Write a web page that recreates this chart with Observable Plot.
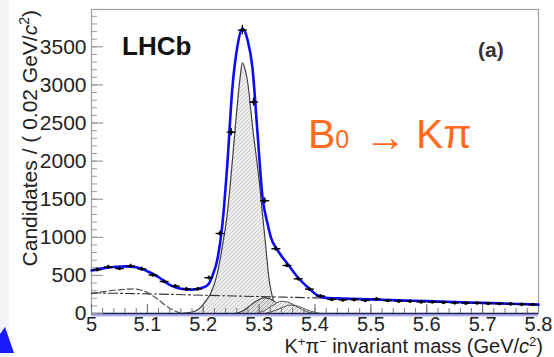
<!DOCTYPE html>
<html><head><meta charset="utf-8">
<script src="https://cdn.jsdelivr.net/npm/d3@7"></script>
<script src="https://cdn.jsdelivr.net/npm/@observablehq/plot@0.6"></script>
<style>
body{margin:0;background:#fff;}
#wrap{position:relative;width:554px;height:357px;overflow:hidden;background:#fff;}
#strip{position:absolute;left:0;top:0;width:9px;height:357px;background:#f3f3f5;}
#wrap svg.main{position:absolute;left:0;top:0;}
</style></head><body><div id="wrap"><div id="strip"></div></div>
<script>
// ---- data ----
const binCenters = [5.01,5.03,5.05,5.07,5.09,5.11,5.13,5.15,5.17,5.19,5.21,5.23,5.25,5.27,5.29,5.31,5.33,5.35,5.37,5.39,
                    5.41,5.43,5.45,5.47,5.49,5.51,5.53,5.55,5.57,5.59,5.61,5.63,5.65,5.67,5.69,5.71,5.73,5.75,5.77,5.79];
const counts = [575,610,590,622,585,505,420,360,320,322,470,1050,2380,3720,2775,1480,850,630,455,320,
                230,185,178,182,172,190,170,162,160,152,150,146,140,136,138,132,130,126,120,118];

const fitMass  = [5.00,5.02,5.04,5.06,5.08,5.10,5.12,5.14,5.16,5.18,5.20,5.21,5.216,5.225,5.234,5.243,5.252,5.261,5.270,5.279,
                  5.288,5.297,5.306,5.315,5.321,5.333,5.351,5.369,5.387,5.405,5.42,5.45,5.50,5.55,5.60,5.65,5.70,5.75,5.80];
const fitTotal = [564,592,610,618,606,555,476,375,325,314,340,390,490,700,1150,1950,2950,3500,3740,3600,
                  3230,2380,1530,1180,1000,830,650,476,345,236,205,196,185,172,162,150,140,128,117];

const sigMass = [5.16,5.185,5.196,5.205,5.213,5.225,5.234,5.243,5.249,5.258,5.266,5.270,5.275,5.279,5.289,5.300,5.306,5.312,5.318,5.324,5.330,5.340,5.350];
const sigVal  = [0,30,84,170,260,521,870,1308,1745,2500,3100,3290,3200,3058,2400,1745,1308,870,433,214,62,10,0];

const prMass = [5.00,5.02,5.04,5.06,5.075,5.09,5.10,5.11,5.12,5.13,5.14,5.15,5.16,5.17];
const prVal  = [262,285,305,318,322,305,275,230,180,120,70,30,6,0];

const combMass = [5.0,5.1,5.2,5.3,5.4,5.5,5.6,5.7,5.8];
const combVal  = [270,258,240,222,205,182,158,136,113];

const humpAMass = [5.255,5.27,5.285,5.30,5.31,5.32,5.335,5.35,5.365,5.375];
const humpAVal  = [0,30,110,185,205,190,120,50,10,0];
const humpBMass = [5.295,5.31,5.325,5.34,5.355,5.37,5.385,5.40];
const humpBVal  = [0,40,110,160,140,80,25,0];
const humpCMass = [5.31,5.325,5.34,5.355,5.37,5.385,5.40,5.41];
const humpCVal  = [0,30,75,110,95,50,15,0];

const xTicks = [5,5.1,5.2,5.3,5.4,5.5,5.6,5.7,5.8];
const xTickLabels = ["5","5.1","5.2","5.3","5.4","5.5","5.6","5.7","5.8"];
const yTicks = [0,500,1000,1500,2000,2500,3000,3500];
const yTickLabels = ["0","500","1000","1500","2000","2500","3000","3500"];
const xMinor = d3.range(0, 41).map(i => 5 + i * 0.02);
const yMinor = d3.range(0, 40).map(i => i * 100);

// ---- tables ----
const zip = (ms, vs) => ms.map((m, i) => ({m, v: vs[i]}));
const points = zip(binCenters, counts);
const fit = zip(fitMass, fitTotal);
const sig = zip(sigMass, sigVal);
const pr = zip(prMass, prVal);
const comb = zip(combMass, combVal);
const hA = zip(humpAMass, humpAVal), hB = zip(humpBMass, humpBVal), hC = zip(humpCMass, humpCVal);

const FONT = "'Liberation Sans', Arial, Helvetica, sans-serif";
const curve = "monotone-x";

const svg = Plot.plot({
  width: 554, height: 357,
  marginLeft: 91, marginRight: 16, marginTop: 9, marginBottom: 44,
  style: {fontFamily: FONT, fontSize: "20px", color: "#222", background: "transparent"},
  x: {domain: [5, 5.8]},
  y: {domain: [0, 3990]},
  marks: [
    Plot.frame({stroke: "#a0a0a0", strokeWidth: 1.2}),
    // signal
    Plot.areaY(sig, {x: "m", y: "v", fill: "url(#hatchS)", curve}),
    Plot.lineY(sig, {x: "m", y: "v", stroke: "#404040", strokeWidth: 1.2, curve}),
    // other peaking components
    Plot.areaY(hA, {x: "m", y: "v", fill: "url(#hatchH)", curve}),
    Plot.lineY(hA, {x: "m", y: "v", stroke: "#404040", strokeWidth: 1.1, curve}),
    Plot.areaY(hB, {x: "m", y: "v", fill: "url(#hatchH2)", curve}),
    Plot.lineY(hB, {x: "m", y: "v", stroke: "#505050", strokeWidth: 1, curve}),
    Plot.lineY(hC, {x: "m", y: "v", stroke: "#505050", strokeWidth: 1, curve}),
    // partially reconstructed
    Plot.lineY(pr, {x: "m", y: "v", stroke: "#555", strokeWidth: 1.2, strokeDasharray: "6,3", curve}),
    // combinatorial
    Plot.lineY(comb, {x: "m", y: "v", stroke: "#333", strokeWidth: 1.1, strokeDasharray: "9,3,2,3", curve}),
    // bottom axis line
    Plot.ruleY([0], {stroke: "#b4b4ee", strokeWidth: 3, dy: 1.5}),
    Plot.ruleY([0], {stroke: "#22225a", strokeWidth: 1.3}),
    // ticks (inward)
    Plot.tickY(yTicks, {y: d => d, stroke: "#8a8a8a", strokeWidth: 1, insetRight: 447 - 12}),
    Plot.tickY(yMinor, {y: d => d, stroke: "#9a9a9a", strokeWidth: 1, insetRight: 447 - 6}),
    Plot.tickX(xTicks, {x: d => d, stroke: "#666", strokeWidth: 1, insetTop: 304 - 9}),
    Plot.tickX(xMinor, {x: d => d, stroke: "#777", strokeWidth: 1, insetTop: 304 - 5}),
    // total fit
    Plot.lineY(fit, {x: "m", y: "v", stroke: "#0b0bff", strokeWidth: 2.6, curve}),
    // data points
    Plot.ruleX(points, {x: "m", y1: d => d.v - Math.sqrt(d.v), y2: d => d.v + Math.sqrt(d.v), stroke: "#000", strokeWidth: 1.3}),
    Plot.link(points, {x1: d => d.m - 0.008, x2: d => d.m + 0.008, y1: "v", y2: "v", stroke: "#000", strokeWidth: 1.4}),
    Plot.dot(points, {x: "m", y: "v", r: 1.8, fill: "#000", stroke: null}),
    // axis labels
    Plot.axisY(yTicks, {tickSize: 0, tickPadding: 5, fontSize: 21, label: null,
      tickFormat: d => yTickLabels[yTicks.indexOf(d)]}),
    Plot.axisX(xTicks, {tickSize: 0, tickPadding: 3, fontSize: 20, label: null,
      tickFormat: d => xTickLabels[xTicks.indexOf(d)]})
  ]
});
svg.classList.add("main");
document.getElementById("wrap").appendChild(svg);

const S = d3.select(svg);
const defs = S.insert("defs", ":first-child");
function hatch(id, bg, line, w) {
  const p = defs.append("pattern").attr("id", id).attr("patternUnits", "userSpaceOnUse")
    .attr("width", 4).attr("height", 4);
  p.append("rect").attr("width", 4).attr("height", 4).attr("fill", bg);
  p.append("path").attr("d", "M-1,1 l2,-2 M0,4 l4,-4 M3,5 l2,-2")
    .attr("stroke", line).attr("stroke-width", w);
}
hatch("hatchS", "#ececec", "#c6c6c6", 0.8);
hatch("hatchH", "#dcdcdc", "#9a9a9a", 0.8);
hatch("hatchH2", "#efefef", "#a8a8a8", 0.7);

const g = S.append("g").attr("font-family", FONT).attr("text-anchor", "start");
// y title
const yt = g.append("text").attr("transform", "translate(37,10) rotate(-90)")
  .attr("text-anchor", "end").attr("font-size", 21).attr("fill", "#222");
yt.append("tspan").text("Candidates / ( 0.02 GeV/");
yt.append("tspan").attr("font-style", "italic").text("c");
yt.append("tspan").attr("font-size", 14).attr("dy", -8).text("2");
yt.append("tspan").attr("dy", 8).text(")");
// x title
const xt = g.append("text").attr("x", 543).attr("y", 353)
  .attr("text-anchor", "end").attr("font-size", 20).attr("fill", "#222");
xt.append("tspan").text("K");
xt.append("tspan").attr("font-size", 13).attr("dy", -7).text("+");
xt.append("tspan").attr("dy", 7).text("π");
xt.append("tspan").attr("font-size", 13).attr("dy", -7).text("−");
xt.append("tspan").attr("dy", 7).text(" invariant mass (GeV/");
xt.append("tspan").attr("font-style", "italic").text("c");
xt.append("tspan").attr("font-size", 13).attr("dy", -7).text("2");
xt.append("tspan").attr("dy", 7).text(")");
// LHCb and (a)
g.append("text").attr("x", 122).attr("y", 55).attr("font-size", 26).attr("font-weight", "bold")
  .attr("fill", "#111").text("LHCb");
g.append("text").attr("x", 478).attr("y", 57).attr("font-size", 21).attr("font-weight", "bold")
  .attr("fill", "#333").text("(a)");
// decay label
const dl = g.append("text").attr("y", 148).attr("fill", "#ff6a1e");
dl.append("tspan").attr("x", 308).attr("font-size", 41).text("B");
dl.append("tspan").attr("font-size", 25).text("0");
dl.append("tspan").attr("x", 364).attr("dy", 3).attr("font-size", 42).text("→");
dl.append("tspan").attr("x", 416).attr("dy", -3).attr("font-size", 41).text("Kπ");
// blue corner mark
g.append("polygon").attr("points", "0,334 5,327 14,353 0,353").attr("fill", "#1a1aff");
</script></body></html>
